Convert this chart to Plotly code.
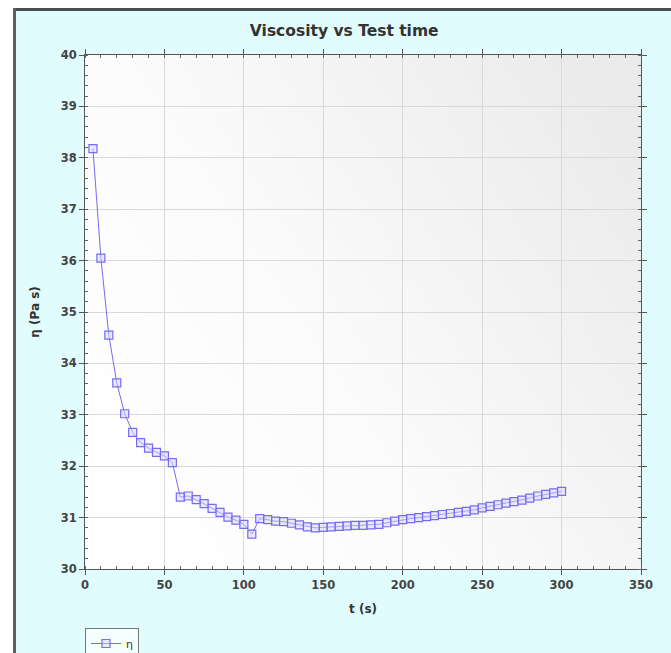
import base64
import plotly.graph_objects as go

# ---- data ----
t_s = [5, 10, 15, 20, 25, 30, 35, 40, 45, 50, 55, 60, 65, 70, 75, 80, 85, 90, 95, 100,
       105, 110, 115, 120, 125, 130, 135, 140, 145, 150, 155, 160, 165, 170, 175, 180,
       185, 190, 195, 200, 205, 210, 215, 220, 225, 230, 235, 240, 245, 250, 255, 260,
       265, 270, 275, 280, 285, 290, 295, 300]
eta = [38.18, 36.05, 34.55, 33.62, 33.02, 32.66, 32.46, 32.35, 32.27, 32.20, 32.07,
       31.40, 31.42, 31.35, 31.27, 31.18, 31.10, 31.01, 30.95, 30.87,
       30.68, 30.98, 30.96, 30.93, 30.92, 30.89, 30.86, 30.82, 30.80, 30.81,
       30.82, 30.83, 30.84, 30.85, 30.85, 30.86, 30.87, 30.90, 30.93, 30.96,
       30.98, 31.00, 31.02, 31.04, 31.06, 31.08, 31.10, 31.12, 31.15, 31.19,
       31.22, 31.25, 31.28, 31.31, 31.34, 31.38, 31.42, 31.45, 31.48, 31.51]
series_name = "η"
chart_title = "Viscosity vs Test time"
x_title = "t (s)"
y_title = "η (Pa s)"

W, H = 671, 653
ML, MR, MT, MB = 85, 30, 55, 84
PW, PH = W - ML - MR, H - MT - MB

def px_x(p):
    return (p - ML) / PW

def px_y(p):
    return (H - MB - p) / PH

line_col = "rgb(118,108,240)"

fig = go.Figure()
fig.add_trace(go.Scatter(
    x=t_s, y=eta, name=series_name, mode="lines+markers",
    line=dict(color=line_col, width=1),
    marker=dict(symbol="square", size=8, color="rgba(215,212,255,0.5)",
                line=dict(color=line_col, width=1.2)),
))

svg = ('<svg xmlns="http://www.w3.org/2000/svg" width="200" height="200">'
       '<defs><linearGradient id="g" x1="0" y1="0.8" x2="1" y2="0.2">'
       '<stop offset="0" stop-color="#ffffff"/><stop offset="0.4" stop-color="#fbfbfb"/>'
       '<stop offset="1" stop-color="#ebebeb"/></linearGradient></defs>'
       '<rect width="200" height="200" fill="url(#g)"/></svg>')
img_src = "data:image/svg+xml;base64," + base64.b64encode(svg.encode()).decode()

font_family = "DejaVu Sans, Verdana, sans-serif"

axis_common = dict(
    showline=True, linecolor="#555555", linewidth=1, mirror="ticks",
    ticks="outside", ticklen=5, tickcolor="#555555",
    showgrid=True, gridcolor="#d9d9d9", gridwidth=1, zeroline=False,
    tickfont=dict(family=font_family, size=11.5, color="#444444", weight="bold"),
)

fig.update_layout(
    width=W, height=H,
    margin=dict(l=ML, r=MR, t=MT, b=MB, autoexpand=False),
    paper_bgcolor="#e1fcfc",
    plot_bgcolor="rgba(0,0,0,0)",
    font=dict(family=font_family, color="#333333"),
    title=dict(text=chart_title, x=0.513, xanchor="center", y=1 - 31 / H, yanchor="middle",
               font=dict(family=font_family, size=15.5, color="#333333", weight="bold")),
    xaxis=dict(range=[0, 350], dtick=50, **axis_common,
               minor=dict(dtick=10, ticks="inside", ticklen=3, tickcolor="#666666", showgrid=False),
               title=dict(text=x_title, standoff=13,
                          font=dict(family=font_family, size=12, color="#333333", weight="bold"))),
    yaxis=dict(range=[30, 40], dtick=1, **axis_common,
               minor=dict(dtick=0.2, ticks="inside", ticklen=3, tickcolor="#666666", showgrid=False),
               title=dict(text=y_title, standoff=18,
                          font=dict(family=font_family, size=12, color="#333333", weight="bold"))),
    showlegend=True,
    legend=dict(x=0, xanchor="left", y=px_y(628), yanchor="top",
                bgcolor="#f5ffff", bordercolor="#777777", borderwidth=1,
                font=dict(family=font_family, size=11, color="#333333"),
                itemwidth=30, tracegroupgap=0),
    images=[dict(source=img_src, xref="paper", yref="paper", x=0, y=1,
                 sizex=1, sizey=1, sizing="stretch", xanchor="left", yanchor="top",
                 layer="below")],
    shapes=[
        dict(type="rect", xref="paper", yref="paper", x0=px_x(-5), x1=px_x(W + 5),
             y0=px_y(8), y1=px_y(-5), fillcolor="white", line=dict(width=0), layer="above"),
        dict(type="rect", xref="paper", yref="paper", x0=px_x(-5), x1=px_x(13),
             y0=px_y(H + 5), y1=px_y(-5), fillcolor="white", line=dict(width=0), layer="above"),
        dict(type="line", xref="paper", yref="paper", x0=px_x(13), x1=px_x(W + 5),
             y0=px_y(9.5), y1=px_y(9.5), line=dict(color="#4a4f50", width=3), layer="above"),
        dict(type="line", xref="paper", yref="paper", x0=px_x(14.5), x1=px_x(14.5),
             y0=px_y(8), y1=px_y(H + 5), line=dict(color="#5a5f60", width=3), layer="above"),
    ],
)

fig.write_html("out.html")
